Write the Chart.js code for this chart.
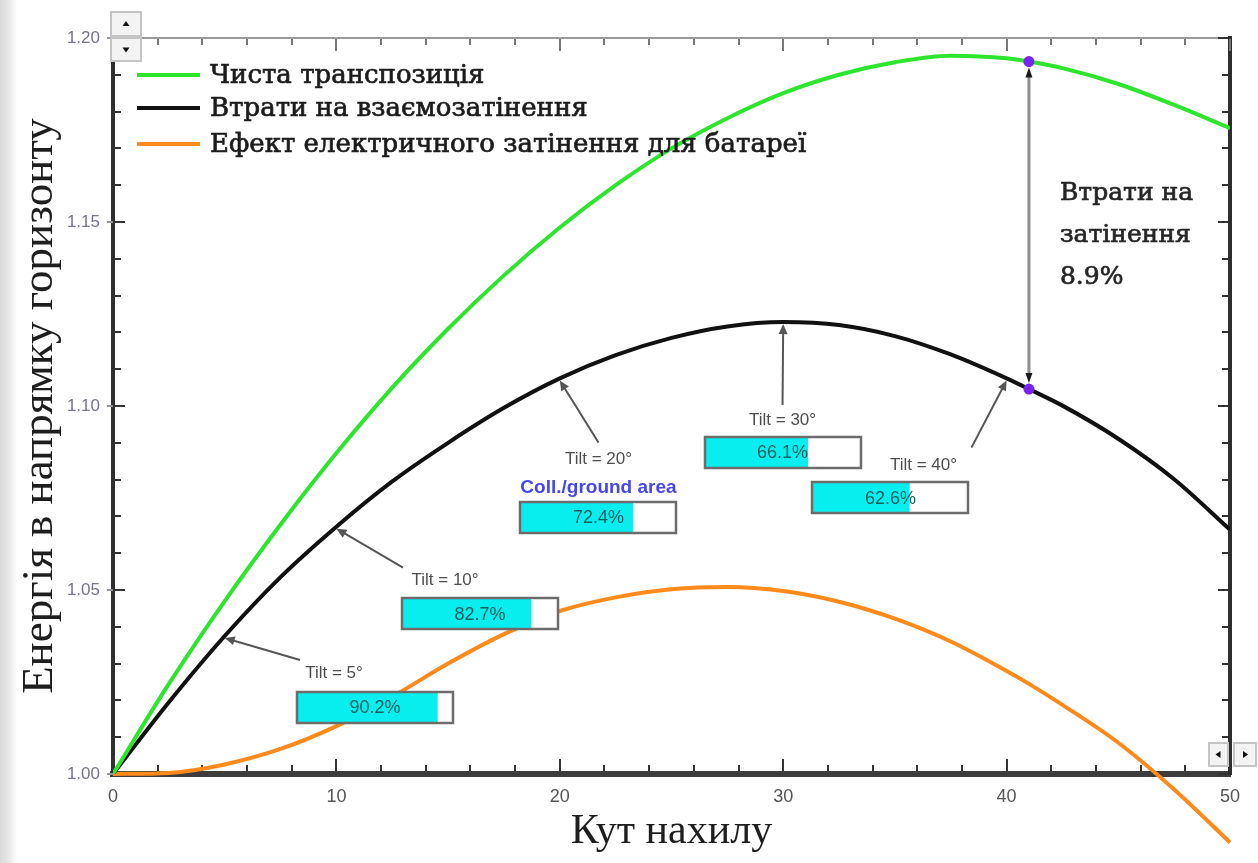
<!DOCTYPE html>
<html lang="uk">
<head>
<meta charset="utf-8">
<title>Енергія в напрямку горизонту</title>
<script src="https://cdn.jsdelivr.net/npm/chart.js@4.4.1/dist/chart.umd.min.js"></script>
<style>
  html, body { margin: 0; padding: 0; }
  body {
    width: 1258px; height: 863px; overflow: hidden;
    background: linear-gradient(to right, #d8d8d8 0px, #e8e8e8 9px, #ffffff 17px);
  }
  #wrap { position: relative; width: 1258px; height: 863px; }
</style>
</head>
<body>
<div id="wrap"><canvas id="chart"></canvas></div>
<script>
// Tilt angle, degrees
const tiltAngles = [0, 2.5, 5, 7.5, 10, 12.5, 15, 17.5, 20, 22.5, 25, 27.5, 30, 32.5, 35, 37.5, 40, 41, 42.5, 45, 47.5, 50];

// Energy relative to the horizontal plane
const cleanTransposition = [1.000, 1.0245, 1.0470, 1.0678, 1.0872, 1.1050, 1.1210, 1.1355, 1.1485, 1.1600, 1.1700, 1.1782, 1.1850, 1.1900, 1.1934, 1.1952, 1.1945, 1.1936, 1.1918, 1.1875, 1.1818, 1.1755];
const mutualShading      = [1.000, 1.0195, 1.0375, 1.0535, 1.0672, 1.0795, 1.0900, 1.0995, 1.1075, 1.1138, 1.1185, 1.1216, 1.1228, 1.1220, 1.1190, 1.1140, 1.1075, 1.1046, 1.1001, 1.0911, 1.0801, 1.0664];
const electricalShading  = [1.000, 1.0003, 1.0026, 1.0068, 1.0130, 1.0210, 1.0300, 1.0380, 1.0443, 1.0480, 1.0502, 1.0508, 1.0497, 1.0468, 1.0422, 1.0360, 1.0280, 1.0245, 1.0188, 1.0085, 0.9958, 0.9814];

const seriesLabels = ['Чиста транспозиція', 'Втрати на взаємозатінення', 'Ефект електричного затінення для батареї'];
const seriesColors = ['#2ee52e', '#111111', '#ff8a1c'];

// Row spacing callouts: tilt and collector/ground area ratio (%)
const tiltMarks = [5, 10, 20, 30, 40];
const groundCoverage = [90.2, 82.7, 72.4, 66.1, 62.6];

// Shading loss between the two upper curves
const shadingLossAngle = 41;
const shadingLossText = ['Втрати на', 'затінення', '8.9%'];

const xTickLabels = ['0', '10', '20', '30', '40', '50'];
const yTickLabels = ['1.00', '1.05', '1.10', '1.15', '1.20'];

const xTitle = 'Кут нахилу';
const yTitle = 'Енергія в напрямку горизонту';

// Callout placement: box centre in data units, offsets in pixels
const calloutLayout = [
  { box: [11.73, 1.0182], label: [-41, -34], tail: [-75, -47] },
  { box: [16.43, 1.0436], label: [-35, -33], tail: [-77, -46] },
  { box: [21.73, 1.0697], label: [0, -58], tail: [0, -75], note: [0, -30] },
  { box: [29.97, 1.0875], label: [0, -32], tail: [0, -47] },
  { box: [34.80, 1.0751], label: [33, -32], tail: [81, -50] }
];

const toPoints = vals => tiltAngles.map((t, i) => ({ x: t, y: vals[i] }));
const lossIdx = tiltAngles.indexOf(shadingLossAngle);

function arrow(ctx, x0, y0, x1, y1, color, width, head) {
  const ang = Math.atan2(y1 - y0, x1 - x0);
  ctx.strokeStyle = color; ctx.fillStyle = color; ctx.lineWidth = width;
  ctx.beginPath();
  ctx.moveTo(x0, y0);
  ctx.lineTo(x1 - Math.cos(ang) * head * 0.8, y1 - Math.sin(ang) * head * 0.8);
  ctx.stroke();
  ctx.beginPath();
  ctx.moveTo(x1, y1);
  ctx.lineTo(x1 - head * Math.cos(ang) + head * 0.45 * Math.sin(ang), y1 - head * Math.sin(ang) - head * 0.45 * Math.cos(ang));
  ctx.lineTo(x1 - head * Math.cos(ang) - head * 0.45 * Math.sin(ang), y1 - head * Math.sin(ang) + head * 0.45 * Math.cos(ang));
  ctx.closePath();
  ctx.fill();
}

function seg(ctx, x0, y0, x1, y1) {
  ctx.beginPath(); ctx.moveTo(x0, y0); ctx.lineTo(x1, y1); ctx.stroke();
}

// Heavier serif text: fill plus a thin outline
function heavyText(ctx, s, x, y) {
  ctx.fillText(s, x, y);
  ctx.lineWidth = 0.7;
  ctx.strokeStyle = ctx.fillStyle;
  ctx.strokeText(s, x, y);
}

// Inward tick marks on all four sides of the frame
const frameTicks = {
  id: 'frameTicks',
  beforeDatasetsDraw(chart) {
    const { ctx, chartArea: a, scales: { x, y } } = chart;
    ctx.save();
    ctx.lineWidth = 2;
    x.ticks.forEach(t => {
      const px = Math.round(x.getPixelForValue(t.value));
      const major = Math.round(t.value) % 10 === 0;
      const len = major ? 12 : 6;
      ctx.strokeStyle = '#333';
      seg(ctx, px, a.bottom - 3, px, a.bottom - 3 - len);
      ctx.strokeStyle = '#777';
      seg(ctx, px, a.top + 1, px, a.top + 1 + len);
    });
    y.ticks.forEach(t => {
      const py = Math.round(y.getPixelForValue(t.value));
      const major = Math.round(t.value * 100) % 5 === 0;
      const len = major ? 10 : 6;
      ctx.strokeStyle = '#333';
      seg(ctx, a.left + 2, py, a.left + 2 + len, py);
      seg(ctx, a.right - 2, py, a.right - 2 - len, py);
      if (major) {
        ctx.strokeStyle = '#999';
        seg(ctx, a.left - 6, py, a.left, py);
      }
    });
    ctx.restore();
  }
};

// Vertical double arrow between the clean and mutually shaded curves
const lossArrow = {
  id: 'lossArrow',
  beforeDatasetsDraw(chart) {
    const { ctx, scales: { x, y } } = chart;
    const px = x.getPixelForValue(shadingLossAngle);
    const yTop = y.getPixelForValue(cleanTransposition[lossIdx]);
    const yBot = y.getPixelForValue(mutualShading[lossIdx]);
    ctx.save();
    ctx.strokeStyle = '#8e8e8e'; ctx.lineWidth = 3;
    seg(ctx, px, yTop + 12, px, yBot - 12);
    ctx.fillStyle = '#1a1a1a';
    ctx.beginPath(); ctx.moveTo(px, yTop + 6); ctx.lineTo(px - 3.5, yTop + 16); ctx.lineTo(px + 3.5, yTop + 16); ctx.closePath(); ctx.fill();
    ctx.beginPath(); ctx.moveTo(px, yBot - 6); ctx.lineTo(px - 3.5, yBot - 16); ctx.lineTo(px + 3.5, yBot - 16); ctx.closePath(); ctx.fill();
    ctx.restore();
  },
  afterDatasetsDraw(chart) {
    const { ctx, scales: { x, y } } = chart;
    const px = x.getPixelForValue(shadingLossAngle);
    const mid = (y.getPixelForValue(cleanTransposition[lossIdx]) + y.getPixelForValue(mutualShading[lossIdx])) / 2;
    ctx.save();
    ctx.font = '25px "DejaVu Serif", serif';
    ctx.fillStyle = '#262626';
    ctx.textAlign = 'left'; ctx.textBaseline = 'middle';
    shadingLossText.forEach((s, i) => heavyText(ctx, s, px + 31, mid + 10 + (i - 1) * 42));
    ctx.restore();
  }
};

// Tilt callouts with collector/ground area bars
const callouts = {
  id: 'callouts',
  afterDatasetsDraw(chart) {
    const { ctx, scales: { x, y } } = chart;
    ctx.save();
    tiltMarks.forEach((t, i) => {
      const L = calloutLayout[i];
      const cx = x.getPixelForValue(L.box[0]);
      const cy = y.getPixelForValue(L.box[1]);
      const k = tiltAngles.indexOf(t);
      const tipX = x.getPixelForValue(t);
      const tipY = y.getPixelForValue(mutualShading[k]);
      arrow(ctx, cx + L.tail[0], cy + L.tail[1], tipX, tipY + 2, '#555', 2, 10);

      ctx.textAlign = 'center'; ctx.textBaseline = 'middle';
      ctx.font = '17px "Liberation Sans", Arial, sans-serif';
      ctx.fillStyle = '#4e4e4e';
      ctx.fillText('Tilt = ' + t + '°', cx + L.label[0], cy + L.label[1]);
      if (L.note) {
        ctx.font = 'bold 19px "Liberation Sans", Arial, sans-serif';
        ctx.fillStyle = '#4646f0';
        ctx.fillText('Coll./ground area', cx + L.note[0], cy + L.note[1]);
      }

      const w = 156, h = 31, bx = Math.round(cx - w / 2), by = Math.round(cy - h / 2);
      ctx.fillStyle = '#ffffff'; ctx.fillRect(bx, by, w, h);
      ctx.fillStyle = '#08eeee'; ctx.fillRect(bx, by, w * groundCoverage[i] / 100, h);
      ctx.strokeStyle = '#6c6c6c'; ctx.lineWidth = 2.5; ctx.strokeRect(bx, by, w, h);
      ctx.font = '18px "Liberation Sans", Arial, sans-serif';
      ctx.fillStyle = '#156060';
      ctx.fillText(groundCoverage[i].toFixed(1) + '%', cx, cy + 1);
    });
    ctx.restore();
  }
};

// Legend drawn inside the plot frame
const insideLegend = {
  id: 'insideLegend',
  afterDatasetsDraw(chart) {
    const { ctx, chartArea: a } = chart;
    const rows = [37, 70, 106];
    ctx.save();
    ctx.font = '26px "DejaVu Serif", serif';
    ctx.textAlign = 'left'; ctx.textBaseline = 'middle';
    seriesLabels.forEach((s, i) => {
      const yy = a.top + rows[i];
      ctx.strokeStyle = seriesColors[i]; ctx.lineWidth = 4;
      seg(ctx, a.left + 24, yy, a.left + 87, yy);
      ctx.fillStyle = '#1c1c1c';
      heavyText(ctx, s, a.left + 97, yy + 1);
    });
    ctx.restore();
  }
};

// Small scroll buttons at the frame corners
function scrollButton(ctx, bx, by, w, h, dir) {
  ctx.fillStyle = '#f3f3f3'; ctx.fillRect(bx, by, w, h);
  ctx.strokeStyle = '#c4c4c4'; ctx.lineWidth = 2; ctx.strokeRect(bx + 1, by + 1, w - 2, h - 2);
  const cx = bx + w / 2, cy = by + h / 2;
  ctx.fillStyle = '#111';
  ctx.beginPath();
  if (dir === 'up') { ctx.moveTo(cx - 3.5, cy + 2); ctx.lineTo(cx + 3.5, cy + 2); ctx.lineTo(cx, cy - 3); }
  if (dir === 'down') { ctx.moveTo(cx - 3.5, cy - 2); ctx.lineTo(cx + 3.5, cy - 2); ctx.lineTo(cx, cy + 3); }
  if (dir === 'left') { ctx.moveTo(cx + 2, cy - 3.5); ctx.lineTo(cx + 2, cy + 3.5); ctx.lineTo(cx - 3, cy); }
  if (dir === 'right') { ctx.moveTo(cx - 2, cy - 3.5); ctx.lineTo(cx - 2, cy + 3.5); ctx.lineTo(cx + 3, cy); }
  ctx.closePath(); ctx.fill();
}
const scrollButtons = {
  id: 'scrollButtons',
  afterDraw(chart) {
    const { ctx, chartArea: a } = chart;
    ctx.save();
    scrollButton(ctx, a.left - 3, a.top - 27, 32, 26, 'up');
    scrollButton(ctx, a.left - 3, a.top - 1, 32, 25, 'down');
    scrollButton(ctx, a.right - 22, a.bottom - 32, 21, 25, 'left');
    scrollButton(ctx, a.right + 3, a.bottom - 32, 24, 25, 'right');
    ctx.restore();
  }
};

const lineDataset = (label, vals, color, order) => ({
  label, data: toPoints(vals), borderColor: color, backgroundColor: color,
  borderWidth: 4, pointRadius: 0, cubicInterpolationMode: 'monotone',
  xAxisID: 'x', yAxisID: 'y', order
});

new Chart(document.getElementById('chart'), {
  type: 'line',
  data: {
    datasets: [
      {
        label: 'shading-loss points',
        data: [
          { x: shadingLossAngle, y: cleanTransposition[lossIdx] },
          { x: shadingLossAngle, y: mutualShading[lossIdx] }
        ],
        showLine: false, pointRadius: 5.5, pointBorderWidth: 0,
        pointBackgroundColor: '#7a24f0', xAxisID: 'x', yAxisID: 'y', order: 0
      },
      lineDataset(seriesLabels[0], cleanTransposition, seriesColors[0], 1),
      lineDataset(seriesLabels[1], mutualShading, seriesColors[1], 2),
      Object.assign(lineDataset(seriesLabels[2], electricalShading, seriesColors[2], 3), { clip: false })
    ]
  },
  options: {
    responsive: true,
    maintainAspectRatio: false,
    animation: false,
    events: [],
    layout: { padding: { top: 38, right: 28, bottom: 0, left: 0 } },
    plugins: { legend: { display: false }, tooltip: { enabled: false } },
    scales: {
      x: {
        type: 'linear', position: 'bottom', min: 0, max: 50,
        afterFit: s => { s.height = 89; },
        grid: { display: false, drawTicks: false },
        border: { display: true, width: 6, color: '#3d3d3d' },
        ticks: {
          stepSize: 2, autoSkip: false, maxRotation: 0, padding: 12,
          color: '#555', font: { family: '"Liberation Sans", Arial, sans-serif', size: 18 },
          callback: v => (xTickLabels.includes(String(Math.round(v))) && Math.abs(v - Math.round(v)) < 1e-6 ? String(Math.round(v)) : '')
        },
        title: {
          display: true, text: xTitle, color: '#1e1e1e',
          font: { family: '"Liberation Serif", "Times New Roman", serif', size: 42 },
          padding: { top: 0, bottom: 6 }
        }
      },
      x2: {
        type: 'linear', position: 'top', min: 0, max: 50,
        afterFit: s => { s.height = 0; },
        grid: { display: false, drawTicks: false },
        ticks: { display: false },
        border: { display: true, width: 2, color: '#9a9a9a' }
      },
      y: {
        type: 'linear', position: 'left', min: 1.0, max: 1.2,
        afterFit: s => { s.width = 113; },
        grid: { display: false, drawTicks: false },
        border: { display: true, width: 4, color: '#303030' },
        ticks: {
          stepSize: 0.01, autoSkip: false, padding: 13,
          color: '#77738a', font: { family: '"Liberation Sans", Arial, sans-serif', size: 17 },
          callback: v => (yTickLabels.includes(v.toFixed(2)) ? v.toFixed(2) : '')
        },
        title: {
          display: true, text: yTitle, color: '#1e1e1e',
          font: { family: '"Liberation Serif", "Times New Roman", serif', size: 45 },
          padding: { top: 13, bottom: 0 }
        }
      },
      y2: {
        type: 'linear', position: 'right', min: 1.0, max: 1.2,
        afterFit: s => { s.width = 0; },
        grid: { display: false, drawTicks: false },
        ticks: { display: false },
        border: { display: true, width: 4, color: '#2e2e2e' }
      }
    }
  },
  plugins: [frameTicks, lossArrow, callouts, insideLegend, scrollButtons]
});
</script>
</body>
</html>
